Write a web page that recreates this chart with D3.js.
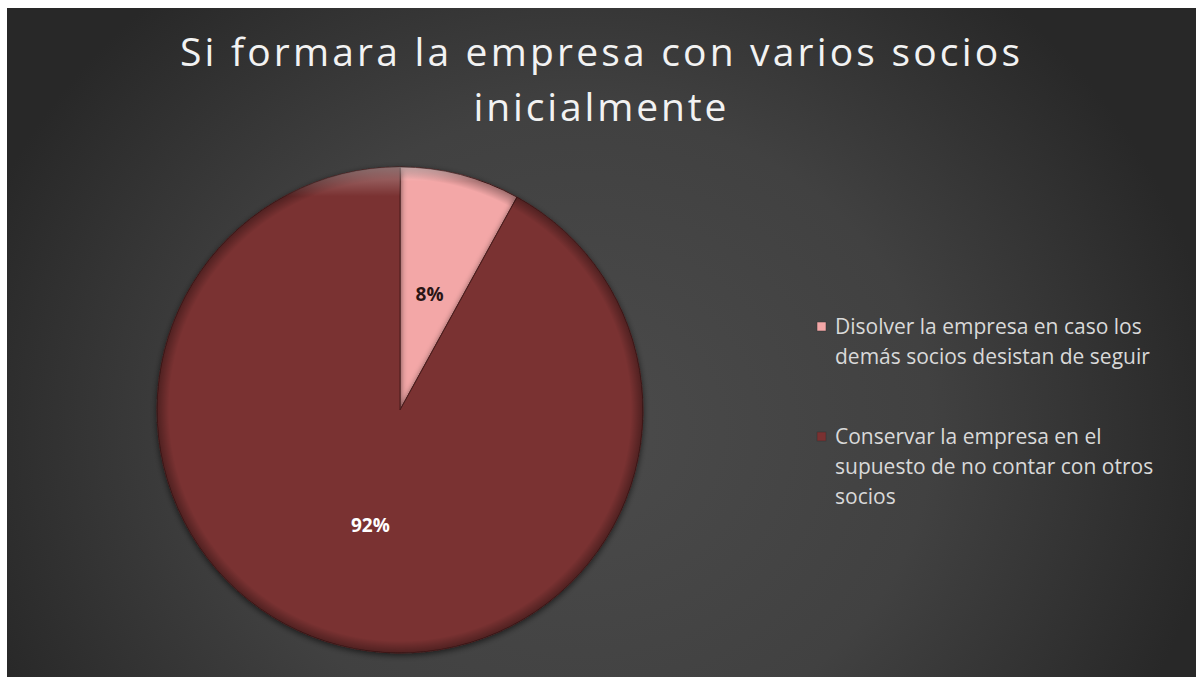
<!DOCTYPE html>
<html><head><meta charset="utf-8">
<script src="https://cdn.jsdelivr.net/npm/d3@7"></script>
<style>html,body{margin:0;padding:0;background:#fff;}svg{display:block;}</style>
</head><body>
<svg id="c" width="1196" height="677"></svg>
<script>
const titleLines = ["Si formara la empresa con varios socios", "inicialmente"];
const categories = ["Disolver la empresa en caso los demás socios desistan de seguir",
                    "Conservar la empresa en el supuesto de no contar con otros socios"];
const legendLines = [["Disolver la empresa en caso los", "demás socios desistan de seguir"],
                     ["Conservar la empresa en el", "supuesto de no contar con otros", "socios"]];
const values = [8, 92];
const labels = ["8%", "92%"];
const colors = ["#f3a7a7", "#7a3131"];
const labelColors = ["#2a1515", "#ffffff"];

const svg = d3.select("#c");
const defs = svg.append("defs");

const bg = defs.append("radialGradient").attr("id","bg")
  .attr("gradientUnits","userSpaceOnUse").attr("cx",580).attr("cy",430).attr("r",640)
  .attr("gradientTransform","translate(580,430) scale(1,0.9) translate(-580,-430)");
bg.append("stop").attr("offset","0%").attr("stop-color","#4b4b4b");
bg.append("stop").attr("offset","55%").attr("stop-color","#414141");
bg.append("stop").attr("offset","100%").attr("stop-color","#282828");
svg.append("rect").attr("x",7).attr("y",8).attr("width",1189).attr("height",669).attr("fill","url(#bg)");

const title = svg.append("g").attr("fill","#f2f2f2")
  .style("font-family","'Open Sans', 'Liberation Sans', sans-serif").style("font-size","39px");
const tWidths = [840, 253];
const tY = [66, 121];
titleLines.forEach((t,i)=>{
  title.append("text").attr("x",600).attr("y",tY[i]).attr("text-anchor","middle")
    .attr("textLength",tWidths[i]).attr("lengthAdjust","spacing").text(t);
});

const cx = 400, cy = 410, R = 243;
const pie = d3.pie().sort(null).value(d=>d)(values);
const arc = d3.arc().innerRadius(0).outerRadius(R);
const g = svg.append("g").attr("transform",`translate(${cx},${cy})`);

const shade = defs.append("radialGradient").attr("id","shade")
  .attr("gradientUnits","userSpaceOnUse").attr("cx",0).attr("cy",0).attr("r",R);
shade.append("stop").attr("offset","0%").attr("stop-color","#000").attr("stop-opacity",0);
shade.append("stop").attr("offset","95%").attr("stop-color","#000").attr("stop-opacity",0);
shade.append("stop").attr("offset","100%").attr("stop-color","#000").attr("stop-opacity",0.35);

const hl = defs.append("linearGradient").attr("id","hl").attr("x1",0).attr("y1",0).attr("x2",0).attr("y2",1);
hl.append("stop").attr("offset","0%").attr("stop-color","#fff").attr("stop-opacity",0.35);
hl.append("stop").attr("offset","6%").attr("stop-color","#fff").attr("stop-opacity",0);
hl.append("stop").attr("offset","100%").attr("stop-color","#fff").attr("stop-opacity",0);

const filt = defs.append("filter").attr("id","sh").attr("x","-10%").attr("y","-10%").attr("width","120%").attr("height","120%");
filt.append("feGaussianBlur").attr("in","SourceAlpha").attr("stdDeviation",3).attr("result","b");
filt.append("feOffset").attr("in","b").attr("dx",0).attr("dy",2).attr("result","o");
filt.append("feComponentTransfer").attr("in","o").attr("result","o2")
  .append("feFuncA").attr("type","linear").attr("slope",0.6);
const fm = filt.append("feMerge");
fm.append("feMergeNode").attr("in","o2");
fm.append("feMergeNode").attr("in","SourceGraphic");

g.selectAll("path.slice").data(pie).join("path").attr("class","slice")
  .attr("d",arc).attr("fill",(d,i)=>colors[i])
  .attr("stroke","#4a1e1e").attr("stroke-width",1).attr("filter","url(#sh)");
g.selectAll("path.shade").data(pie).join("path").attr("class","shade")
  .attr("d",arc).attr("fill","url(#shade)");
g.selectAll("path.hl").data(pie).join("path").attr("class","hl")
  .attr("d",arc).attr("fill","url(#hl)");

const larc = d3.arc().innerRadius(119).outerRadius(119);
g.selectAll("text.lbl").data(pie).join("text").attr("class","lbl")
  .attr("transform",d=>`translate(${larc.centroid(d)})`)
  .attr("text-anchor","middle").attr("dy","0.35em")
  .attr("fill",(d,i)=>labelColors[i])
  .style("font-family","'Open Sans', 'Liberation Sans', sans-serif")
  .style("font-size","19px").style("font-weight","bold")
  .text((d,i)=>labels[i]);

const leg = svg.append("g").style("font-family","'Open Sans', 'Liberation Sans', sans-serif")
  .style("font-size","21px").attr("fill","#d9d9d9");
const legY = [327, 437];
const lineH = 30;
legendLines.forEach((lines,i)=>{
  leg.append("rect").attr("x",817).attr("y",legY[i]-5).attr("width",9).attr("height",9)
    .attr("fill",colors[i]).attr("stroke","#333").attr("stroke-width",0.5);
  lines.forEach((t,j)=>{
    leg.append("text").attr("x",835).attr("y",legY[i]+j*lineH).attr("dy","0.35em").text(t);
  });
});
</script>
</body></html>
